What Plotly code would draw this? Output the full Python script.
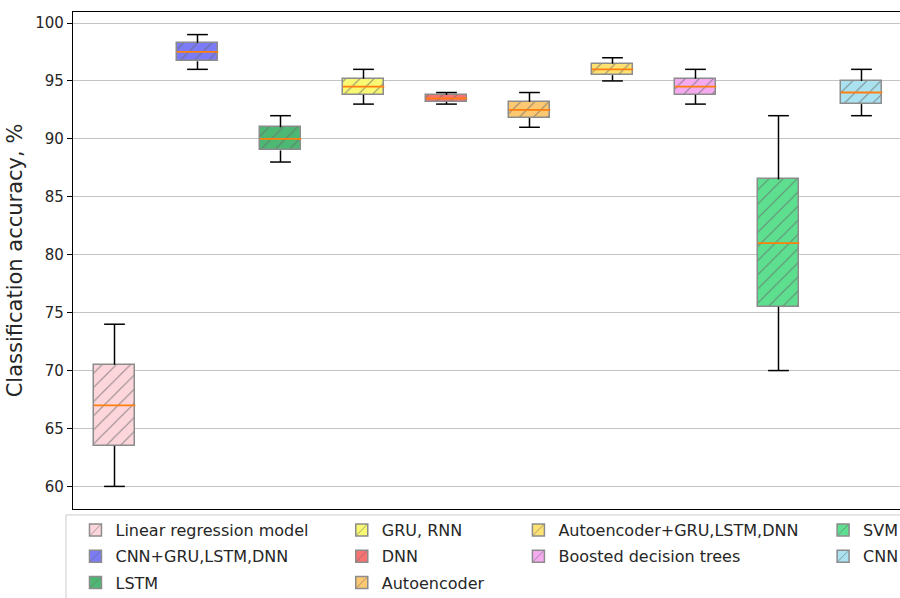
import plotly.graph_objects as go

# Classification accuracy (%) per model: whisker ends, quartiles and medians
models = [
    "Linear regression model", "CNN+GRU,LSTM,DNN", "LSTM", "GRU, RNN", "DNN",
    "Autoencoder", "Autoencoder+GRU,LSTM,DNN", "Boosted decision trees", "SVM", "CNN",
]
lower_whisker = [60.0, 96.0, 88.0, 93.0, 93.0, 91.0, 95.0, 93.0, 70.0, 92.0]
q1 = [63.5, 96.7, 89.0, 93.8, 93.2, 91.8, 95.5, 93.8, 75.5, 93.0]
median = [67.0, 97.5, 90.0, 94.5, 93.5, 92.5, 96.0, 94.5, 81.0, 94.0]
q3 = [70.5, 98.3, 91.0, 95.2, 93.8, 93.2, 96.5, 95.2, 86.5, 95.0]
upper_whisker = [74.0, 99.0, 92.0, 96.0, 94.0, 94.0, 97.0, 96.0, 92.0, 96.0]

fill_colors = [
    "#fdd6dc", "#7b7bf6", "#4db873", "#f8f872", "#f87272",
    "#fdc872", "#fde272", "#f5aaf0", "#5ddf8f", "#aae2f0",
]
# legend column for each model (column-major, 3/3/2/2)
legend_ids = ["legend", "legend", "legend", "legend2", "legend2", "legend2",
              "legend3", "legend3", "legend4", "legend4"]

positions = list(range(1, len(models) + 1))
BOX_W = 0.5
CAP_W = 0.25
FONT = "DejaVu Sans"
TXT = "#262626"

fig = go.Figure()

# boxes (interquartile range) as hatched bars
for i, name in enumerate(models):
    fig.add_trace(go.Bar(
        x=[positions[i]], y=[q3[i] - q1[i]], base=[q1[i]], width=BOX_W,
        name=name, legend=legend_ids[i], legendgroup=name,
        marker=dict(
            color=fill_colors[i],
            line=dict(color="#8c8c8c", width=1.5),
            pattern=dict(shape="/", size=10, solidity=0.1,
                         fgcolor="rgba(105,105,105,0.75)",
                         bgcolor=fill_colors[i], fillmode="replace"),
        ),
        hoverinfo="skip",
    ))

# whiskers and caps
wx, wy = [], []
for p, lo, a, b, hi in zip(positions, lower_whisker, q1, q3, upper_whisker):
    wx += [p, p, None, p, p, None,
           p - CAP_W / 2, p + CAP_W / 2, None, p - CAP_W / 2, p + CAP_W / 2, None]
    wy += [a, lo, None, b, hi, None, lo, lo, None, hi, hi, None]
fig.add_trace(go.Scatter(x=wx, y=wy, mode="lines", showlegend=False,
                         line=dict(color="black", width=1.5), hoverinfo="skip"))

# medians
mx, my = [], []
for p, m in zip(positions, median):
    mx += [p - BOX_W / 2, p + BOX_W / 2, None]
    my += [m, m, None]
fig.add_trace(go.Scatter(x=mx, y=my, mode="lines", showlegend=False,
                         line=dict(color="#ff7f0e", width=1.8), hoverinfo="skip"))

legend_style = dict(font=dict(family=FONT, size=16, color=TXT),
                    bgcolor="rgba(0,0,0,0)", borderwidth=0,
                    yanchor="top", xanchor="left", y=-0.008,
                    traceorder="grouped", tracegroupgap=2.5)

fig.update_layout(
    width=900, height=598,
    margin=dict(l=73, r=0, t=12, b=89, autoexpand=False),
    paper_bgcolor="white", plot_bgcolor="white",
    barmode="overlay", bargap=0,
    font=dict(family=FONT, color=TXT),
    legend=dict(x=0.003, **legend_style),
    legend2=dict(x=0.325, **legend_style),
    legend3=dict(x=0.5386, **legend_style),
    legend4=dict(x=0.907, **legend_style),
    xaxis=dict(range=[0.5, 10.464], showticklabels=False, ticks="",
               showgrid=False, zeroline=False,
               showline=True, mirror=True, linecolor="black", linewidth=1.2),
    yaxis=dict(range=[58.05, 100.95], tickvals=[60, 65, 70, 75, 80, 85, 90, 95, 100],
               ticks="outside", ticklen=5, tickcolor="black", tickwidth=1,
               tickfont=dict(family=FONT, size=15, color=TXT),
               showgrid=True, gridcolor="#c4c4c4", gridwidth=1.3,
               zeroline=False, showline=True, linecolor="black", linewidth=1.2,
               title=dict(text="Classification accuracy, %", standoff=6,
                          font=dict(family=FONT, size=21, color=TXT))),
    shapes=[dict(type="rect", xref="paper", yref="paper",
                 x0=-0.0085, x1=1.2, y0=-0.012, y1=-0.3,
                 line=dict(color="#cccccc", width=1), layer="below")],
)

fig.write_html("out.html")
